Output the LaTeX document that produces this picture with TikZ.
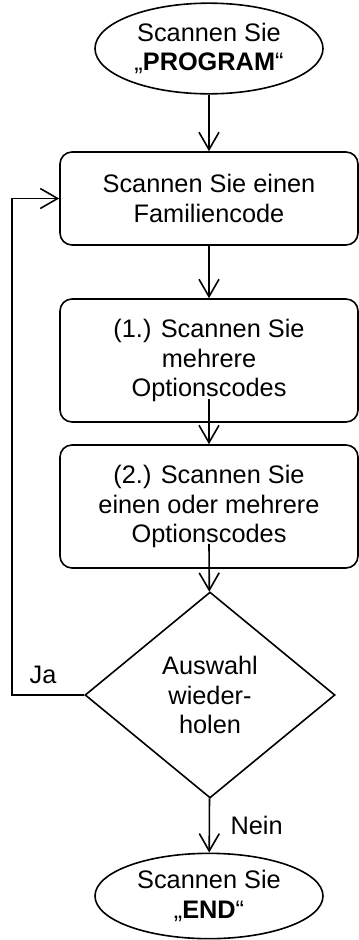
\documentclass[tikz,border=0pt]{standalone}
\usepackage{fontspec}
\setmainfont{Liberation Sans}
\usetikzlibrary{shapes.geometric,arrows.meta}

\tikzset{
  pfeil/.style={draw,line width=1.2pt,-{Straight Barb[length=13pt,width=15pt,line width=1.2pt]}},
  ablauf/.style={draw,line width=1.2pt,rounded corners=9pt,minimum width=223.5pt,align=center,
    font=\fontsize{19}{22}\selectfont},
  terminal/.style={draw,line width=1.2pt,ellipse,minimum width=171pt,inner sep=0pt,align=center,
    font=\fontsize{19}{22}\selectfont},
  frage/.style={draw,line width=1.2pt,diamond,minimum width=187.5pt,minimum height=154.5pt,
    inner sep=0pt,align=center,font=\fontsize{19}{22}\selectfont},
  beschr/.style={font=\fontsize{19}{22}\selectfont}
}

\begin{document}
\begin{tikzpicture}[x=0.75pt,y=-0.75pt]
        % Rahmen des Bildes (359 x 940 Pixel)
        \useasboundingbox[fill=white] (0,0) rectangle (359,940);

        % Start und Ende
        \node[terminal,minimum height=68pt] (start) at (209,48.5) {Scannen Sie\\„\textbf{PROGRAM}“};
        \node[terminal,minimum height=64pt] (ende) at (209,896) {Scannen Sie\\„\textbf{END}“};

        % Die drei Schritte
        \node[ablauf,minimum height=69.75pt] (familie) at (209,198.5) {Scannen Sie einen\\Familiencode};
        \node[ablauf,minimum height=92.25pt] (option1) at (209,360.5) {(1.) Scannen Sie\\mehrere\\Optionscodes};
        \node[ablauf,minimum height=92.25pt] (option2) at (209,506.5) {(2.) Scannen Sie\\einen oder mehrere\\Optionscodes};

        % Abfrage
        \node[frage] (wiederholen) at (210,695) {Auswahl\\wieder-\\holen};
        \coordinate (links) at (12,695);

        % Pfeile
        \draw[pfeil] (start) -- (familie);
        \draw[pfeil] (familie) -- (option1);
        \draw[pfeil] ([yshift=18pt]option1.south) -- (option2);
        \draw[pfeil] ([yshift=18.75pt]option2.south) -- (wiederholen);
        \draw[pfeil] (wiederholen) -- node[beschr,right=12pt] (nein) {Nein} (ende);
        \draw[pfeil] (wiederholen.west) -- (links) |- (familie.west);
        \node[beschr] (ja) at (43,675) {Ja};
\end{tikzpicture}
\end{document}
